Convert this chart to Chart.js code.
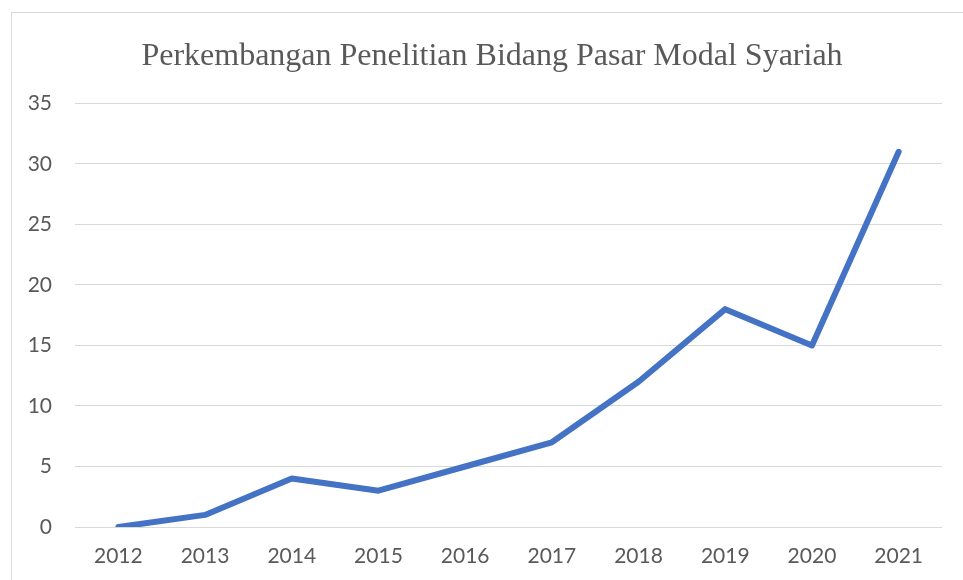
<!DOCTYPE html>
<html>
<head>
<meta charset="utf-8">
<script src="https://cdn.jsdelivr.net/npm/chart.js@4.4.1/dist/chart.umd.min.js"></script>
<style>
    body { margin: 0; background: #ffffff; }
    #frame {
        position: absolute;
        left: 11px;
        top: 12px;
        width: 970px;
        height: 600px;
        border: 1px solid #d9d9d9;
    }
    #wrap {
        position: absolute;
        left: 0;
        top: 0;
        width: 963px;
        height: 580px;
    }
</style>
</head>
<body>
<div id="frame"></div>
<div id="wrap"><canvas id="researchChart"></canvas></div>
<script>
// ============================================
// DATA
// ============================================

const years = ["2012", "2013", "2014", "2015", "2016", "2017", "2018", "2019", "2020", "2021"];

const researchCount = [0, 1, 4, 3, 5, 7, 12, 18, 15, 31];

const yTicks = [0, 5, 10, 15, 20, 25, 30, 35];

const chartTitle = "Perkembangan Penelitian Bidang Pasar Modal Syariah";

// ============================================
// centre the title on the framed box, not the canvas
// ============================================

const shiftTitle = {
    id: "shiftTitle",
    afterLayout: function (chart) {
        const t = chart.titleBlock;
        if (t) {
            t.left += 21;
            t.right += 21;
        }
    }
};

// ============================================
// LINE CHART
// ============================================

const researchChart = new Chart(
    document.getElementById("researchChart"),
    {
        type: "line",

        data: {
            labels: years,
            datasets: [{
                data: researchCount,
                borderColor: "#4472c4",
                borderWidth: 6,
                borderCapStyle: "round",
                borderJoinStyle: "round",
                pointRadius: 0,
                tension: 0,
                fill: false
            }]
        },

        plugins: [shiftTitle],

        options: {
            responsive: true,
            maintainAspectRatio: false,
            animation: false,

            layout: {
                padding: { left: 0, right: 21, top: 0, bottom: 0 }
            },

            plugins: {
                legend: { display: false },
                tooltip: { enabled: false },
                title: {
                    display: true,
                    text: chartTitle,
                    color: "#595959",
                    font: { family: "'Liberation Serif', 'Times New Roman', serif", size: 32, weight: "normal" },
                    padding: { top: 37, bottom: 28 }
                }
            },

            scales: {
                x: {
                    offset: true,
                    grid: { display: false, drawTicks: false },
                    border: { display: false },
                    ticks: {
                        color: "#595959",
                        padding: 17,
                        font: { family: "Lato, 'Noto Sans', sans-serif", size: 21 }
                    },
                    afterFit: function (scale) { scale.height = 53; }
                },
                y: {
                    min: 0,
                    max: 35,
                    grid: { color: "#d9d9d9", lineWidth: 1, drawTicks: false },
                    border: { display: false },
                    afterBuildTicks: function (scale) {
                        scale.ticks = yTicks.map(function (v) { return { value: v }; });
                    },
                    ticks: {
                        color: "#595959",
                        padding: 23,
                        font: { family: "Lato, 'Noto Sans', sans-serif", size: 21 }
                    },
                    afterFit: function (scale) { scale.width = 75; }
                }
            }
        }
    }
);
</script>
</body>
</html>
